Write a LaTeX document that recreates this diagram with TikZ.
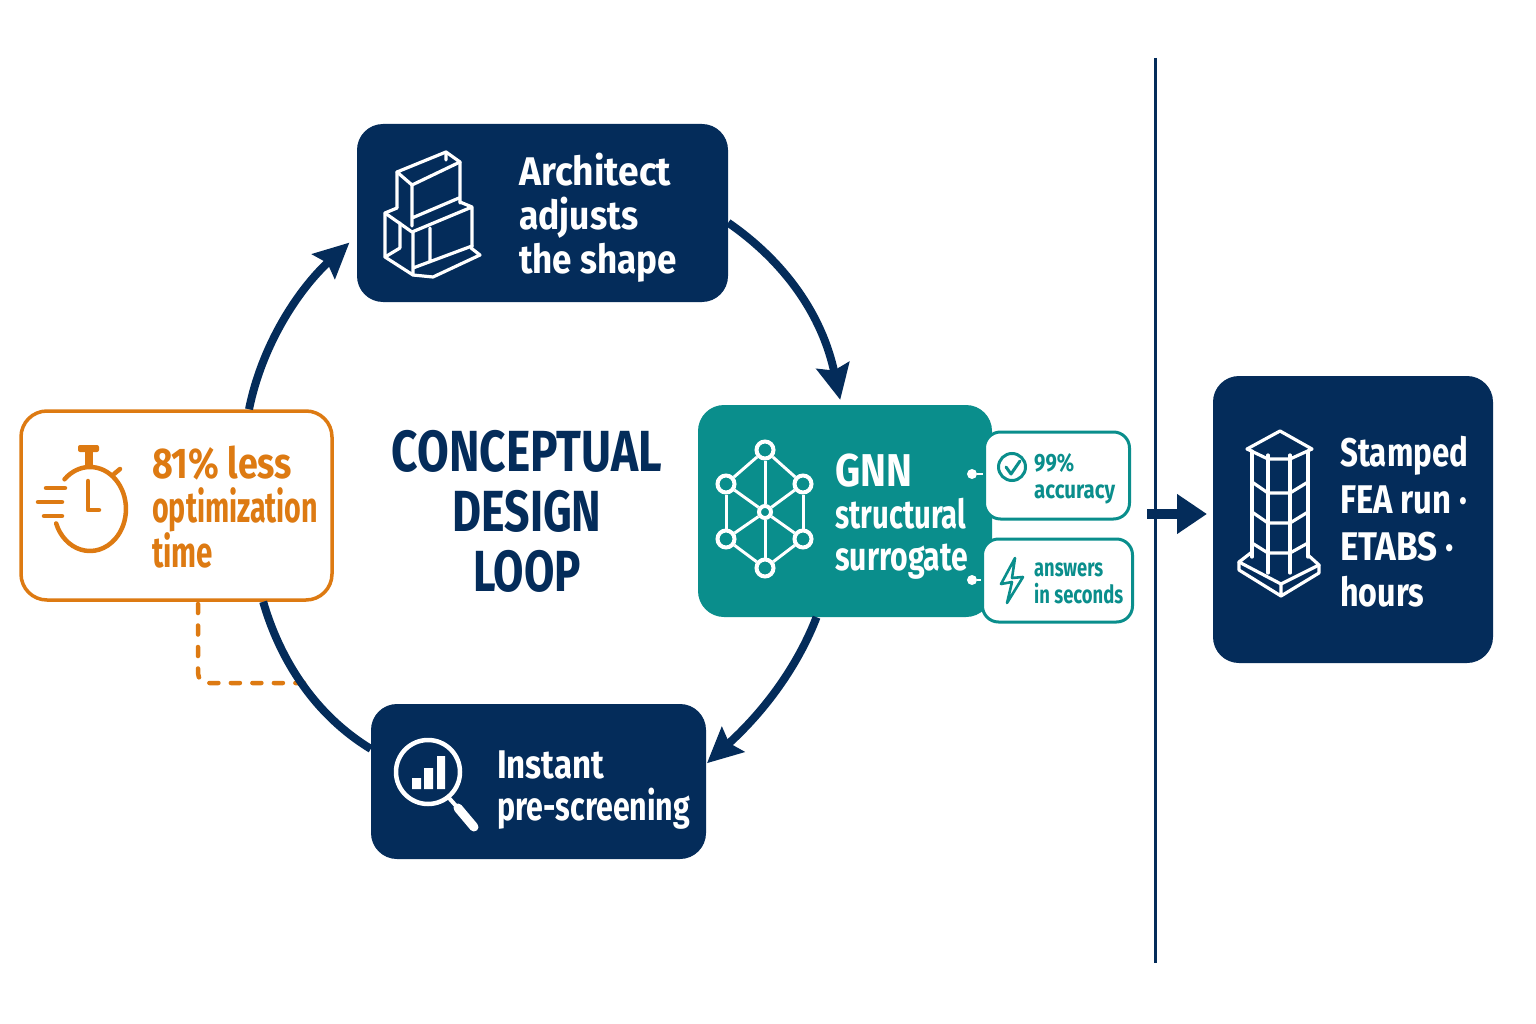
\documentclass[tikz,border=0pt]{standalone}
\usepackage{fontspec}
\usepackage{graphicx}
\usetikzlibrary{arrows.meta,calc}
\setmainfont{Fira Sans}[BoldFont={Fira Sans Bold}]
\newcommand\fitw[2]{\resizebox{#1pt}{\height}{#2}}
\definecolor{navy}{HTML}{042C5A}
\definecolor{tealc}{HTML}{0A8E8C}
\definecolor{orangec}{HTML}{DD7A12}
\tikzset{
  navybox/.style={fill=navy,rounded corners=26pt,inner sep=0pt},
  tealbox/.style={fill=tealc,rounded corners=26pt,inner sep=0pt},
  orangebox/.style={draw=orangec,line width=3.5pt,fill=white,rounded corners=26pt,inner sep=0pt},
  callout/.style={draw=tealc,line width=3pt,fill=white,rounded corners=16pt,inner sep=0pt},
  loop/.style={draw=navy,line width=8pt},
  loophead/.style={-{Stealth[length=35pt,width=33pt,inset=5pt]}},
  label/.style={align=left,anchor=west,inner sep=0pt,font=\bfseries},
  wicon/.style={draw=white,line width=3.2pt,line join=round,line cap=round},
  oicon/.style={draw=orangec,line width=4.5pt,line join=round,line cap=round},
  ticon/.style={draw=tealc,line width=3pt,line join=round,line cap=round},
  gnode/.style={circle,draw=white,line width=4pt,fill=tealc,minimum size=17pt,inner sep=0pt},
  dot/.style={circle,fill=white,minimum size=10pt,inner sep=0pt},
}
\begin{document}
\begin{tikzpicture}[x=1pt,y=-1pt]
\useasboundingbox[fill=white] (0,0) rectangle (1536,1024);
% boxes (named)
\node[navybox,minimum width=371pt,minimum height=178pt] (arch) at (542.5,213) {};
\node[tealbox,minimum width=294pt,minimum height=212pt] (gnn) at (845,511) {};
\node[navybox,minimum width=335pt,minimum height=155pt] (inst) at (538.5,781.5) {};
\node[orangebox,minimum width=311pt,minimum height=189pt] (save) at (176.5,505.5) {};
\node[navybox,minimum width=280pt,minimum height=287pt] (fea) at (1353,519.5) {};
% divider
\coordinate (divtop) at (1155,58);
\coordinate (divbot) at (1155,963);
\draw[navy,line width=3pt] (divtop) -- (divbot);
% dashed
\coordinate (dashend) at (304,683);
\draw[orangec,line width=4.5pt,dash pattern=on 9pt off 12.5pt,rounded corners=10pt,line cap=round] (198,604) -- (198,683) -- (dashend);
% loop arrows
\draw[loop,loophead,shorten >=5pt] (arch.-3) .. controls (785,262) and (822,315) .. (gnn.92);
\draw[loop,loophead,shorten >=1pt] (gnn.-105) .. controls (800,660) and (770,706) .. (inst.6);
\draw[loop] (inst.169) .. controls (315,715) and (280,660) .. (save.-48);
\draw[loop,loophead,shorten >=10pt] (save.53) .. controls (262,345) and (298,290) .. (arch.187);
% to FEA arrow
\coordinate (feastart) at (1147,514);
\coordinate (featip) at (1207,514);
\draw[navy,line width=10pt,-{Triangle[length=30pt,width=38pt]}] (feastart) -- (featip);
% texts
\node[label,text=white,font=\bfseries\fontsize{40}{44}\selectfont] (archt) at (519,218) {\fitw{152}{Architect}\\\fitw{119}{adjusts}\\\fitw{158}{the shape}};
\node[label,text=white,font=\bfseries\fontsize{40}{42}\selectfont] (instt) at (497,790) {\fitw{107}{Instant}\\\fitw{193}{pre-screening}};
\node[label,text=white,font=\bfseries\fontsize{40}{42}\selectfont] (gnnt) at (835,517) {\fitw{77}{\fontsize{46}{42}\selectfont GNN}\\\fitw{131}{structural}\\\fitw{133}{surrogate}};
\node[label,text=orangec,font=\bfseries\fontsize{43}{44}\selectfont] (savet) at (152,507) {\fitw{140}{81\% less}\\\fitw{166}{optimization}\\\fitw{61}{time}};
\node[label,text=white,font=\bfseries\fontsize{40}{46.7}\selectfont] (feat) at (1340,522) {\fitw{128}{Stamped}\\\fitw{127}{FEA run ·}\\\fitw{114}{ETABS ·}\\\fitw{84}{hours}};
\node[align=center,inner sep=0pt,text=navy,font=\bfseries\fontsize{58}{60}\selectfont] (title) at (527,511) {\fitw{270}{CONCEPTUAL}\\\fitw{149}{DESIGN}\\\fitw{108}{LOOP}};
% callouts
\node[callout,minimum width=145pt,minimum height=87pt] (acc) at (1057,475.5) {};
\node[callout,minimum width=150pt,minimum height=83pt] (sec) at (1057.5,580.5) {};
\node[label,text=tealc,font=\bfseries\fontsize{25}{27}\selectfont] (acct) at (1034,479) {\fitw{40}{99\%}\\\fitw{81}{accuracy}};
\node[label,text=tealc,font=\bfseries\fontsize{25}{27}\selectfont] (sect) at (1034,583) {\fitw{69}{answers}\\\fitw{89}{in seconds}};
\node[dot] (d1) at (972,474) {};
\node[dot] (d2) at (972,580) {};
\draw[white,line width=2.5pt] (d1) -- (acc.west |- d1);
\draw[white,line width=2.5pt] (d2) -- (sec.west |- d2);
% check icon
\node[circle,draw=tealc,line width=3pt,minimum size=27pt,inner sep=0pt] (chk) at (1012,467) {};
\draw[ticon] (1006,467) -- (1011,474) -- (1020,461);
% bolt icon
\draw[ticon,line width=2.6pt] (1015,558) -- (1001,584) -- (1012,582) -- (1007,603) -- (1023,577) -- (1012,578) -- cycle;
% GNN icon
\node[gnode] (n1) at (765,450) {};
\node[gnode] (n2) at (726,484) {};
\node[gnode] (n3) at (803,484) {};
\node[gnode,minimum size=12pt] (n4) at (765,512) {};
\node[gnode] (n5) at (726,539) {};
\node[gnode] (n6) at (803,539) {};
\node[gnode] (n7) at (765,568) {};
\foreach \a/\b in {n1/n2,n1/n3,n1/n4,n2/n5,n3/n6,n2/n4,n3/n4,n5/n4,n6/n4,n5/n7,n6/n7,n4/n7}
  \draw[white,line width=3pt] (\a) -- (\b);
% building icon
\draw[wicon] (397,172) -- (446,152) -- (460,162) -- (412,185) -- cycle;
\draw[wicon] (397,172) -- (397,208) (412,185) -- (412,226) (460,162) -- (460,203) (412,218) -- (459,198) (446,152) -- (446,160);
\draw[wicon] (397,208) -- (385,213) -- (385,257) -- (413,275) -- (433,277) -- (480,255) -- (471,248);
\draw[wicon] (385,213) -- (412,232) -- (472,207) -- (472,247) (460,202) -- (472,207);
\draw[wicon] (413,232) -- (413,275) (413,268) -- (472,246) (430,228) -- (430,262) (400,223) -- (400,248) (385,257) -- (400,248);
% magnifier
\node[circle,draw=white,line width=4.5pt,minimum size=64pt,inner sep=0pt] (lens) at (428,772) {};
\draw[white,line width=4pt] (449,798) -- (457,807);
\draw[white,line width=9pt,line cap=round] (458,808) -- (474,827);
\fill[white] (412,778) rectangle (421,789) (424,768) rectangle (433,789) (437,756) rectangle (445,789);
% stopwatch
\draw[oicon] (64.5,479.3) arc[start angle=-135,end angle=160,x radius=36,y radius=42];
\fill[orangec,rounded corners=2pt] (78,445) rectangle (99,452);
\fill[orangec] (85,452) rectangle (93,466);
\draw[oicon] (114,474) -- (120,469);
\draw[oicon] (88,481) -- (88,510) -- (99,510);
\draw[oicon] (46,488) -- (65,488) (38,502) -- (62,502) (44,516) -- (62,516);
% tower icon
\draw[wicon] (1247,449) -- (1280,431) -- (1312,449) -- (1290,459) -- (1268,459) -- cycle;
\draw[wicon] (1252,451) -- (1252,557) (1268,455) -- (1268,573) (1290,455) -- (1290,573) (1308,451) -- (1308,557);
\draw[wicon] (1252,482) -- (1268,493) -- (1290,493) -- (1308,482);
\draw[wicon] (1252,512) -- (1268,523) -- (1290,523) -- (1308,512);
\draw[wicon] (1252,543) -- (1268,553) -- (1290,553) -- (1308,543);
\draw[wicon] (1252,552) -- (1239,562) -- (1281,584) -- (1319,565) -- (1308,555);
\draw[wicon] (1239,562) -- (1239,570) -- (1281,596) -- (1319,573) -- (1319,565) (1281,584) -- (1281,596);
\end{tikzpicture}
\end{document}
